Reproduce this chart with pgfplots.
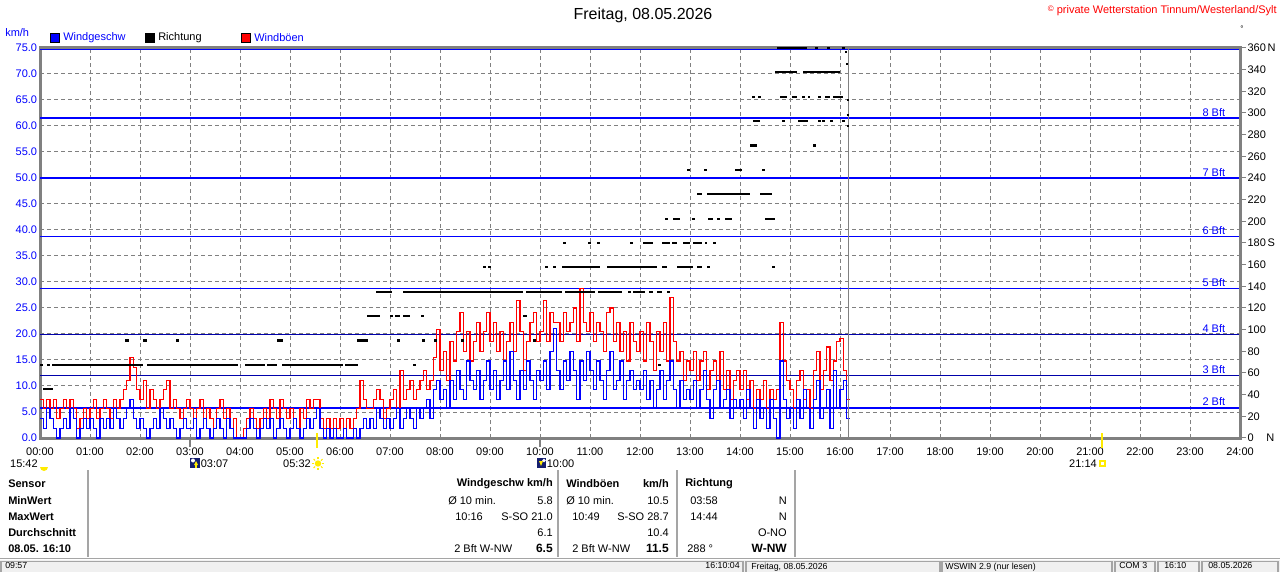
\documentclass[border=0pt]{standalone}
\usepackage{fontspec}
\setmainfont{Liberation Sans}
\usepackage{pgfplots}
\usepackage{pgfplotstable}
\pgfplotsset{compat=1.18}
\definecolor{wblue}{RGB}{0,0,255}
\definecolor{wnavy}{RGB}{0,0,170}
\definecolor{wred}{RGB}{255,0,0}
\definecolor{axgray}{RGB}{128,128,128}
\definecolor{lgray}{RGB}{165,165,165}
\definecolor{sbg}{RGB}{240,240,240}
\definecolor{sunyellow}{RGB}{255,235,0}
\definecolor{iconnavy}{RGB}{20,30,110}

% wind speed, 4-minute steps from 00:00
\pgfplotstableread[row sep=\\]{v\\
3.7\\1.8\\5.6\\3.7\\1.8\\0\\1.8\\3.7\\1.8\\5.6\\3.7\\0\\1.8\\3.7\\1.8\\
3.7\\1.8\\0\\3.7\\1.8\\3.7\\1.8\\5.6\\3.7\\1.8\\3.7\\5.6\\7.4\\3.7\\1.8\\
3.7\\1.8\\0\\1.8\\3.7\\1.8\\5.6\\3.7\\1.8\\3.7\\1.8\\0\\1.8\\3.7\\1.8\\
1.8\\3.7\\0\\1.8\\3.7\\1.8\\0\\1.8\\3.7\\1.8\\0\\3.7\\1.8\\0\\0\\
0\\0\\1.8\\3.7\\1.8\\0\\1.8\\3.7\\1.8\\3.7\\0\\1.8\\3.7\\1.8\\0\\
1.8\\3.7\\1.8\\0\\1.8\\3.7\\1.8\\3.7\\5.6\\1.8\\0\\1.8\\0\\1.8\\0\\
0\\1.8\\0\\0\\1.8\\0\\1.8\\3.7\\1.8\\3.7\\1.8\\5.6\\3.7\\1.8\\3.7\\
1.8\\3.7\\5.6\\1.8\\3.7\\5.6\\3.7\\1.8\\5.6\\3.7\\5.6\\7.4\\3.7\\9.3\\11.1\\
7.4\\9.3\\5.6\\11.1\\7.4\\13.0\\9.3\\7.4\\14.8\\11.1\\9.3\\13.0\\7.4\\11.1\\14.8\\
9.3\\13.0\\7.4\\11.1\\14.8\\9.3\\16.7\\11.1\\7.4\\13.0\\9.3\\14.8\\11.1\\7.4\\13.0\\
11.1\\14.8\\9.3\\16.7\\21.0\\13.0\\9.3\\14.8\\11.1\\16.7\\13.0\\7.4\\14.8\\11.1\\16.7\\
13.0\\9.3\\14.8\\11.1\\7.4\\13.0\\16.7\\9.3\\11.1\\14.8\\7.4\\11.1\\13.0\\9.3\\11.1\\
9.3\\13.0\\7.4\\11.1\\5.6\\9.3\\13.0\\7.4\\11.1\\14.8\\9.3\\5.6\\11.1\\7.4\\9.3\\
7.4\\11.1\\5.6\\9.3\\13.0\\7.4\\3.7\\9.3\\11.1\\5.6\\7.4\\9.3\\3.7\\7.4\\5.6\\
7.4\\3.7\\9.3\\5.6\\1.8\\7.4\\3.7\\5.6\\1.8\\7.4\\3.7\\0\\14.8\\7.4\\3.7\\
5.6\\1.8\\7.4\\3.7\\9.3\\5.6\\1.8\\7.4\\11.1\\3.7\\5.6\\9.3\\1.8\\13.0\\5.6\\
9.3\\11.1\\3.7\\3.7\\
}\speed

% gusts, 4-minute steps from 00:00
\pgfplotstableread[row sep=\\]{v\\
7.4\\5.6\\7.4\\5.6\\7.4\\3.7\\5.6\\7.4\\5.6\\7.4\\5.6\\1.8\\3.7\\5.6\\3.7\\
5.6\\7.4\\3.7\\5.6\\7.4\\5.6\\3.7\\7.4\\5.6\\7.4\\9.3\\11.1\\15.4\\13.5\\9.3\\
7.4\\11.1\\5.6\\9.3\\7.4\\5.6\\7.4\\9.3\\11.1\\5.6\\7.4\\5.6\\3.7\\5.6\\7.4\\
5.6\\3.7\\5.6\\7.4\\3.7\\5.6\\3.7\\1.8\\5.6\\7.4\\3.7\\5.6\\1.8\\3.7\\0\\
0\\1.8\\3.7\\5.6\\3.7\\1.8\\3.7\\5.6\\3.7\\7.4\\5.6\\3.7\\7.4\\5.6\\3.7\\
5.6\\3.7\\1.8\\5.6\\3.7\\7.4\\5.6\\7.4\\7.4\\3.7\\1.8\\3.7\\1.8\\3.7\\1.8\\
3.7\\1.8\\3.7\\1.8\\3.7\\5.6\\11.1\\7.4\\5.6\\5.6\\7.4\\9.3\\7.4\\3.7\\5.6\\
7.4\\9.3\\5.6\\13.0\\7.4\\9.3\\11.1\\7.4\\9.3\\11.1\\13.0\\9.3\\11.1\\15.4\\20.8\\
13.0\\16.7\\11.1\\18.5\\14.8\\20.4\\24.1\\16.7\\20.4\\14.8\\18.5\\22.2\\16.7\\20.4\\24.1\\
18.5\\22.2\\16.7\\20.4\\14.8\\18.5\\22.2\\16.7\\26.5\\20.4\\12.9\\18.5\\22.2\\24.1\\18.5\\
20.4\\26.5\\18.5\\24.1\\22.2\\22.2\\18.5\\24.1\\20.4\\22.2\\25.0\\18.5\\28.7\\22.2\\20.4\\
24.1\\18.5\\22.2\\20.4\\16.7\\24.1\\25.0\\18.5\\22.2\\16.7\\20.4\\14.8\\22.2\\18.5\\16.7\\
20.4\\14.8\\22.2\\18.5\\12.9\\20.4\\16.7\\22.2\\14.8\\27.0\\18.5\\14.8\\16.7\\11.1\\14.8\\
12.9\\16.7\\11.1\\14.8\\16.7\\9.3\\12.9\\14.8\\11.1\\16.7\\9.3\\13.0\\7.4\\11.1\\12.9\\
9.3\\12.9\\7.4\\11.1\\5.6\\9.3\\7.4\\11.1\\5.6\\9.3\\7.4\\9.3\\22.2\\14.8\\11.1\\
9.3\\5.6\\11.1\\13.0\\7.4\\9.3\\5.6\\12.9\\16.7\\9.3\\13.0\\17.5\\11.1\\14.8\\18.5\\
19.2\\13.0\\7.4\\7.4\\
}\gust

% wind direction runs: hour, degrees
\pgfplotstableread[row sep=\\]{h d\\
0.06 45\\0.26 45\\nan nan\\
0.00 67.5\\0.06 67.5\\nan nan\\0.14 67.5\\0.20 67.5\\nan nan\\0.24 67.5\\2.06 67.5\\nan nan\\
2.14 67.5\\3.96 67.5\\nan nan\\4.10 67.5\\4.50 67.5\\nan nan\\4.54 67.5\\4.74 67.5\\nan nan\\
4.84 67.5\\6.06 67.5\\nan nan\\6.10 67.5\\6.36 67.5\\nan nan\\7.46 67.5\\7.52 67.5\\nan nan\\
12.36 67.5\\12.42 67.5\\nan nan\\
1.70 90\\1.78 90\\nan nan\\2.06 90\\2.14 90\\nan nan\\2.72 90\\2.78 90\\nan nan\\4.74 90\\4.86 90\\nan nan\\
6.34 90\\6.56 90\\nan nan\\7.14 90\\7.20 90\\nan nan\\7.64 90\\7.70 90\\nan nan\\7.88 90\\7.94 90\\nan nan\\
8.42 90\\8.48 90\\nan nan\\9.86 90\\9.92 90\\nan nan\\
6.54 112.5\\6.80 112.5\\nan nan\\7.00 112.5\\7.06 112.5\\nan nan\\7.10 112.5\\7.20 112.5\\nan nan\\
7.26 112.5\\7.40 112.5\\nan nan\\7.62 112.5\\7.68 112.5\\nan nan\\9.66 112.5\\9.74 112.5\\nan nan\\
6.72 135\\7.04 135\\nan nan\\7.26 135\\9.66 135\\nan nan\\9.72 135\\10.44 135\\nan nan\\10.50 135\\11.10 135\\nan nan\\
11.16 135\\11.64 135\\nan nan\\11.76 135\\11.82 135\\nan nan\\11.86 135\\12.10 135\\nan nan\\
12.18 135\\12.26 135\\nan nan\\12.34 135\\12.44 135\\nan nan\\12.54 135\\12.60 135\\nan nan\\
8.86 157.5\\8.92 157.5\\nan nan\\8.96 157.5\\9.02 157.5\\nan nan\\10.10 157.5\\10.16 157.5\\nan nan\\
10.26 157.5\\10.32 157.5\\nan nan\\10.44 157.5\\11.20 157.5\\nan nan\\11.34 157.5\\12.34 157.5\\nan nan\\
12.44 157.5\\12.54 157.5\\nan nan\\12.74 157.5\\13.06 157.5\\nan nan\\13.14 157.5\\13.24 157.5\\nan nan\\
13.34 157.5\\13.40 157.5\\nan nan\\14.64 157.5\\14.70 157.5\\nan nan\\
10.46 180\\10.52 180\\nan nan\\10.96 180\\11.02 180\\nan nan\\11.14 180\\11.20 180\\nan nan\\
11.80 180\\11.86 180\\nan nan\\12.06 180\\12.26 180\\nan nan\\12.44 180\\12.60 180\\nan nan\\
12.64 180\\12.74 180\\nan nan\\12.86 180\\13.00 180\\nan nan\\13.06 180\\13.24 180\\nan nan\\
13.30 180\\13.34 180\\nan nan\\13.46 180\\13.52 180\\nan nan\\
12.50 202.5\\12.56 202.5\\nan nan\\12.66 202.5\\12.80 202.5\\nan nan\\13.04 202.5\\13.10 202.5\\nan nan\\
13.36 202.5\\13.46 202.5\\nan nan\\13.54 202.5\\13.60 202.5\\nan nan\\13.70 202.5\\13.84 202.5\\nan nan\\
14.50 202.5\\14.70 202.5\\nan nan\\
13.14 225\\13.24 225\\nan nan\\13.34 225\\14.20 225\\nan nan\\14.40 225\\14.64 225\\nan nan\\
12.94 247.5\\13.00 247.5\\nan nan\\13.28 247.5\\13.34 247.5\\nan nan\\13.90 247.5\\14.04 247.5\\nan nan\\
14.44 247.5\\14.50 247.5\\nan nan\\
14.20 270\\14.34 270\\nan nan\\15.46 270\\15.52 270\\nan nan\\
14.26 292.5\\14.40 292.5\\nan nan\\14.84 292.5\\14.90 292.5\\nan nan\\15.16 292.5\\15.36 292.5\\nan nan\\
15.56 292.5\\15.62 292.5\\nan nan\\15.64 292.5\\15.70 292.5\\nan nan\\15.80 292.5\\15.86 292.5\\nan nan\\
16.04 292.5\\16.10 292.5\\nan nan\\
14.24 315\\14.30 315\\nan nan\\14.36 315\\14.42 315\\nan nan\\14.80 315\\14.94 315\\nan nan\\
15.04 315\\15.14 315\\nan nan\\15.24 315\\15.30 315\\nan nan\\15.36 315\\15.40 315\\nan nan\\
15.56 315\\15.62 315\\nan nan\\15.70 315\\15.80 315\\nan nan\\15.86 315\\16.06 315\\nan nan\\
14.70 337.5\\15.14 337.5\\nan nan\\15.26 337.5\\16.00 337.5\\nan nan\\
14.74 360\\15.34 360\\nan nan\\15.50 360\\15.56 360\\nan nan\\15.74 360\\15.80 360\\nan nan\\
16.04 360\\16.10 360\\nan nan\\
16.10 356\\16.14 356\\nan nan\\16.12 345\\16.16 345\\nan nan\\16.13 312\\16.17 312\\nan nan\\
16.13 298\\16.17 298\\nan nan\\16.13 288\\16.17 288\\
}\direction

\begin{document}
\begin{tikzpicture}[font=\fontsize{8.25}{10}\selectfont]
\useasboundingbox (0,0) rectangle (960pt,428.25pt);

% ---------------- main axis: km/h ----------------
\begin{axis}[
  at={(30pt,99.75pt)}, anchor=south west,
  scale only axis, width=900pt, height=292.5pt,
  xmin=0, xmax=24, ymin=0, ymax=75,
  clip=false,
  axis line style={axgray, line width=2.25pt},
  major tick length=0pt,
  xtick={0,1,...,24},
  xticklabels={00:00,01:00,02:00,03:00,04:00,05:00,06:00,07:00,08:00,09:00,10:00,11:00,12:00,13:00,14:00,15:00,16:00,17:00,18:00,19:00,20:00,21:00,22:00,23:00,24:00},
  xticklabel style={anchor=north, inner sep=0pt, yshift=-7pt},
  ytick={0,5,...,75},
  yticklabel={\pgfmathprintnumber[fixed,fixed zerofill,precision=1,assume math mode=true]{\tick}},
  yticklabel style={text=wblue, anchor=east, inner sep=0pt, xshift=-2pt},
  grid=major,
  major grid style={axgray, line width=0.75pt, dash pattern=on 3pt off 2.25pt},
]
% Beaufort limits
\draw[wblue, line width=1.1pt] (axis cs:0,5.8) -- (axis cs:24,5.8);
\draw[wnavy, line width=1.1pt] (axis cs:0,12.0) -- (axis cs:24,12.0);
\draw[wnavy, line width=1.1pt] (axis cs:0,19.9) -- (axis cs:24,19.9);
\draw[wblue, line width=1.1pt] (axis cs:0,28.8) -- (axis cs:24,28.8);
\draw[wblue, line width=1.1pt] (axis cs:0,38.7) -- (axis cs:24,38.7);
\draw[wblue, line width=1.1pt] (axis cs:0,50.0) -- (axis cs:24,50.0);
\draw[wblue, line width=1.1pt] (axis cs:0,61.5) -- (axis cs:24,61.5);
\draw[wblue, line width=1.1pt] (axis cs:0,74.7) -- (axis cs:24,74.7);
\node[anchor=south east, text=wblue, inner sep=1.2pt] at (axis cs:23.74,5.8) {2 Bft};
\node[anchor=south east, text=wblue, inner sep=1.2pt] at (axis cs:23.74,12.0) {3 Bft};
\node[anchor=south east, text=wblue, inner sep=1.2pt] at (axis cs:23.74,19.9) {4 Bft};
\node[anchor=south east, text=wblue, inner sep=1.2pt] at (axis cs:23.74,28.8) {5 Bft};
\node[anchor=south east, text=wblue, inner sep=1.2pt] at (axis cs:23.74,38.7) {6 Bft};
\node[anchor=south east, text=wblue, inner sep=1.2pt] at (axis cs:23.74,50.0) {7 Bft};
\node[anchor=south east, text=wblue, inner sep=1.2pt] at (axis cs:23.74,61.5) {8 Bft};
\addplot[const plot, wred, line width=0.85pt] table[x expr=\coordindex/15, y=v]{\gust};
\addplot[const plot, wblue, line width=0.85pt] table[x expr=\coordindex/15, y=v]{\speed};
% current time marker 16:10
\draw[axgray, line width=0.75pt] (axis cs:16.167,0) -- (axis cs:16.167,75);
\end{axis}

% ---------------- secondary axis: direction ----------------
\begin{axis}[
  at={(30pt,99.75pt)}, anchor=south west,
  scale only axis, width=900pt, height=292.5pt,
  xmin=0, xmax=24, ymin=0, ymax=360,
  clip=false,
  axis x line=none, axis y line*=right,
  y axis line style={axgray, line width=2.25pt},
  ytick={0,20,...,360},
  yticklabels={{\makebox[14pt][l]{0}N},20,40,60,80,100,120,140,160,{\makebox[15pt][l]{180}S},200,220,240,260,280,300,320,340,{\makebox[15pt][l]{360}N}},
  yticklabel style={anchor=west, inner sep=0pt, xshift=1pt},
  tick align=outside, major tick length=4.5pt,
  tick style={axgray, line width=0.75pt},
]
\addplot[black, line width=1.6pt, unbounded coords=jump] table[x=h, y=d]{\direction};
\end{axis}

% ---------------- surrounding texts in pixel units ----------------
\begin{scope}[x=0.75pt, y=-0.75pt, shift={(0pt,428.25pt)}]
% title and copyright
\node[font=\fontsize{12}{14}\selectfont] at (643,15) {Freitag, 08.05.2026};
\node[anchor=east, text=wred, inner sep=0pt] at (1277,11) {\raisebox{1.5pt}{\fontsize{6}{6}\selectfont\textcopyright}\ private Wetterstation Tinnum/Westerland/Sylt};
\node[inner sep=0pt, font=\fontsize{6}{6}\selectfont] at (1242,29) {°};
% unit and legend
\node[anchor=west, text=wblue, inner sep=0pt] at (5,33) {km/h};
\filldraw[fill=wblue, draw=black, line width=0.5pt] (50,33) rectangle (59,42);
\node[anchor=west, text=wblue, inner sep=0pt] at (63,38) {Windgeschw};
\filldraw[fill=black, draw=black, line width=0.5pt] (145,33) rectangle (154,42);
\node[anchor=west, inner sep=0pt] at (158,38) {Richtung};
\filldraw[fill=wred, draw=black, line width=0.5pt] (241,33) rectangle (250,42);
\node[anchor=west, text=wblue, inner sep=0pt] at (254,38) {Windböen};
% tick decorations on the time axis
\draw[axgray, line width=1.5pt] (190,438) -- (190,447);
\draw[axgray, line width=1.5pt] (540,438) -- (540,447);
\draw[sunyellow, line width=1.6pt] (316.7,433) -- (316.7,448);
\draw[sunyellow, line width=1.6pt] (1101.7,433) -- (1101.7,448);
% sun and moon times
\node[anchor=east, inner sep=0pt] at (38,463.5) {15:42};
\fill[sunyellow] (40,467) arc (180:0:4) -- cycle;
\fill[iconnavy] (190,458) rectangle (200,468);
\fill[white] (193,460.5) circle (2);
\fill[sunyellow] (196,461) -- (198,465) -- (194,465) -- cycle;
\draw[sunyellow, line width=1pt] (196,465) -- (196,468);
\node[anchor=west, inner sep=0pt] at (200.5,463.5) {03:07};
\node[anchor=east, inner sep=0pt] at (311,463.5) {05:32};
\fill[sunyellow] (318,463.5) circle (3.2);
\foreach \a in {0,45,...,315}{\draw[sunyellow, line width=0.8pt] (318,463.5) ++(\a:4.2) -- ++(\a:2);}
\fill[iconnavy] (537,458) rectangle (546,468);
\fill[white] (544,460.5) circle (1.8);
\fill[sunyellow] (541,466) -- (539,461) -- (543,461) -- cycle;
\node[anchor=west, inner sep=0pt] at (546.5,463.5) {10:00};
\node[anchor=east, inner sep=0pt] at (1097,463.5) {21:14};
\draw[sunyellow, line width=0.9pt] (1100,461) rectangle (1105,466);
% statistics table
\foreach \xx in {88,558,677,795}{\draw[lgray, line width=0.9pt] (\xx,470) -- (\xx,557);}
\draw[lgray, line width=1.2pt] (0,558.5) -- (1280,558.5);
\begin{scope}[every node/.style={inner sep=0pt}]
\node[anchor=west, font=\fontsize{8.25}{10}\selectfont\bfseries] at (8,484) {Sensor};
\node[anchor=west, font=\fontsize{8.25}{10}\selectfont\bfseries] at (8,500.3) {MinWert};
\node[anchor=west, font=\fontsize{8.25}{10}\selectfont\bfseries] at (8,516.6) {MaxWert};
\node[anchor=west, font=\fontsize{8.25}{10}\selectfont\bfseries] at (8,532.6) {Durchschnitt};
\node[anchor=west, font=\fontsize{8.25}{10}\selectfont\bfseries] at (8,548.5) {08.05. 16:10};
% Windgeschw column
\node[anchor=east, font=\fontsize{8.25}{10}\selectfont\bfseries] at (553,484) {Windgeschw km/h};
\node[anchor=west] at (448,500.3) {Ø 10 min.};
\node[anchor=east] at (553,500.3) {5.8};
\node[anchor=west] at (455,516.6) {10:16};
\node[anchor=east] at (553,516.6) {S-SO 21.0};
\node[anchor=east] at (553,532.6) {6.1};
\node[anchor=west] at (454,548.5) {2 Bft W-NW};
\node[anchor=east, font=\fontsize{9}{10}\selectfont\bfseries] at (553,548.5) {6.5};
% Windboeen column
\node[anchor=west, font=\fontsize{8.25}{10}\selectfont\bfseries] at (566,484) {Windböen};
\node[anchor=east, font=\fontsize{8.25}{10}\selectfont\bfseries] at (669,484) {km/h};
\node[anchor=west] at (566,500.3) {Ø 10 min.};
\node[anchor=east] at (669,500.3) {10.5};
\node[anchor=west] at (572,516.6) {10:49};
\node[anchor=east] at (669,516.6) {S-SO 28.7};
\node[anchor=east] at (669,532.6) {10.4};
\node[anchor=west] at (572,548.5) {2 Bft W-NW};
\node[anchor=east, font=\fontsize{9}{10}\selectfont\bfseries] at (669,548.5) {11.5};
% Richtung column
\node[anchor=west, font=\fontsize{8.25}{10}\selectfont\bfseries] at (685,484) {Richtung};
\node[anchor=west] at (690,500.3) {03:58};
\node[anchor=east] at (787,500.3) {N};
\node[anchor=west] at (690,516.6) {14:44};
\node[anchor=east] at (787,516.6) {N};
\node[anchor=east] at (787,532.6) {O-NO};
\node[anchor=west] at (687,548.5) {288 °};
\node[anchor=east, font=\fontsize{9}{10}\selectfont\bfseries] at (787,548.5) {W-NW};
\end{scope}
% status bar at the bottom edge
\begin{scope}
\clip (0,560) rectangle (1280,571);
\fill[sbg] (0,560) rectangle (1280,575);
\foreach \a/\b in {1/743,746/940,942/1112,1115/1155,1158/1199,1202/1278}{
  \draw[lgray, line width=0.9pt] (\a,561.5) rectangle (\b,585);
}
\begin{scope}[every node/.style={inner sep=0pt, font=\fontsize{6.6}{7}\selectfont}]
\node[anchor=north west] at (5,562.5) {09:57};
\node[anchor=north east] at (740,562.5) {16:10:04};
\node[anchor=north west] at (751,562.5) {Freitag, 08.05.2026};
\node[anchor=north west] at (945,562.5) {WSWIN 2.9 (nur lesen)};
\node[anchor=north west] at (1119,562.5) {COM 3};
\node[anchor=north west] at (1164,562.5) {16:10};
\node[anchor=north west] at (1208,562.5) {08.05.2026};
\end{scope}
\end{scope}
\end{scope}
\end{tikzpicture}
\end{document}
